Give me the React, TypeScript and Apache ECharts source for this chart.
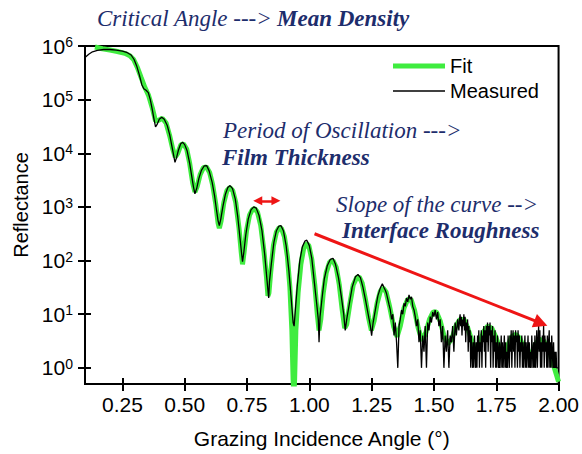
import React, { useEffect, useRef } from 'react';
import * as echarts from 'echarts';

const measAngle = [
  0.1, 0.115, 0.13, 0.15, 0.175, 0.2, 0.225, 0.25, 0.27, 0.285, 0.297, 0.307, 0.318, 0.328, 0.336, 0.345, 0.354, 0.362, 0.37, 0.377,
  0.383, 0.39, 0.398, 0.408, 0.418, 0.43, 0.44, 0.448, 0.455, 0.461, 0.467, 0.475, 0.484, 0.492, 0.5, 0.51, 0.52, 0.528, 0.535, 0.541,
  0.548, 0.557, 0.567, 0.578, 0.588, 0.598, 0.61, 0.62, 0.628, 0.634, 0.639, 0.645, 0.653, 0.663, 0.673, 0.682, 0.692, 0.703, 0.713, 0.722,
  0.728, 0.732, 0.737, 0.745, 0.755, 0.766, 0.777, 0.787, 0.798, 0.81, 0.821, 0.829, 0.835, 0.837, 0.84, 0.848, 0.858, 0.868, 0.878, 0.886,
  0.896, 0.907, 0.918, 0.928, 0.935, 0.939, 0.944, 0.952, 0.962, 0.972, 0.982, 0.99, 1.0, 1.01, 1.02, 1.03, 1.036, 1.039, 1.043, 1.05,
  1.06, 1.072, 1.084, 1.095, 1.105, 1.117, 1.128, 1.138, 1.144, 1.15, 1.16, 1.172, 1.185, 1.195, 1.205, 1.215, 1.226, 1.236, 1.245, 1.25,
  1.256, 1.265, 1.275, 1.285, 1.293,
  1.3, 1.305, 1.31, 1.315, 1.32, 1.325, 1.33, 1.335, 1.34, 1.345, 1.35, 1.355, 1.36, 1.365, 1.37, 1.375, 1.38, 1.385, 1.39, 1.395,
  1.4, 1.405, 1.41, 1.415, 1.42, 1.425, 1.43, 1.435, 1.44, 1.445, 1.45, 1.455, 1.46, 1.465, 1.47, 1.475, 1.48, 1.485, 1.49, 1.495,
  1.5, 1.505, 1.51, 1.515, 1.52, 1.525, 1.53, 1.535, 1.54, 1.545, 1.55, 1.555, 1.56, 1.565, 1.57, 1.575, 1.58, 1.585, 1.59, 1.595,
  1.6, 1.6025, 1.605, 1.6075, 1.61, 1.6125, 1.615, 1.6175, 1.62, 1.6225, 1.625, 1.6275, 1.63, 1.6325, 1.635, 1.6375, 1.64, 1.6425, 1.645, 1.6475,
  1.65, 1.6525, 1.655, 1.6575, 1.66, 1.6625, 1.665, 1.6675, 1.67, 1.6725, 1.675, 1.6775, 1.68, 1.6825, 1.685, 1.6875, 1.69, 1.6925, 1.695, 1.6975,
  1.7, 1.7025, 1.705, 1.7075, 1.71, 1.7125, 1.715, 1.7175, 1.72, 1.7225, 1.725, 1.7275, 1.73, 1.7325, 1.735, 1.7375, 1.74, 1.7425, 1.745, 1.7475,
  1.75, 1.7525, 1.755, 1.7575, 1.76, 1.7625, 1.765, 1.7675, 1.77, 1.7725, 1.775, 1.7775, 1.78, 1.7825, 1.785, 1.7875, 1.79, 1.7925, 1.795, 1.7975,
  1.8, 1.8025, 1.805, 1.8075, 1.81, 1.8125, 1.815, 1.8175, 1.82, 1.8225, 1.825, 1.8275, 1.83, 1.8325, 1.835, 1.8375, 1.84, 1.8425, 1.845, 1.8475,
  1.85, 1.8525, 1.855, 1.8575, 1.86, 1.8625, 1.865, 1.8675, 1.87, 1.8725, 1.875, 1.8775, 1.88, 1.8825, 1.885, 1.8875, 1.89, 1.8925, 1.895, 1.8975,
  1.9, 1.9025, 1.905, 1.9075, 1.91, 1.9125, 1.915, 1.9175, 1.92, 1.9225, 1.925, 1.9275, 1.93, 1.9325, 1.935, 1.9375, 1.94, 1.9425, 1.945, 1.9475,
  1.95, 1.9525, 1.955, 1.9575, 1.96, 1.9625, 1.965, 1.9675, 1.97, 1.9725, 1.975, 1.9775, 1.98, 1.9825, 1.985, 1.9875, 1.99, 1.9925, 1.995, 1.9975
];
const measR = [
  6.1e5, 7.0e5, 7.8e5, 8.3e5, 8.6e5, 8.6e5, 8.4e5, 8.0e5, 7.5e5, 6.8e5, 5.6e5, 4.3e5, 2.9e5, 1.9e5, 1.6e5, 1.5e5, 1.35e5, 1.0e5, 6.5e4, 4.3e4,
  3.1e4, 3.5e4, 4.3e4, 4.7e4, 4.3e4, 3.3e4, 2.2e4, 1.4e4, 9.5e3, 6.8e3, 8.2e3, 1.15e4, 1.5e4, 1.6e4, 1.45e4, 1.1e4, 6.5e3, 3.8e3, 2.4e3, 1.75e3,
  2.2e3, 3.4e3, 4.8e3, 5.8e3, 5.9e3, 4.7e3, 2.9e3, 1.6e3, 850, 550, 450, 600, 1000, 1700, 2300, 2500, 2200, 1400, 650, 260,
  140, 95, 140, 300, 600, 880, 1000, 950, 700, 360, 130, 50, 25, 20, 40, 90, 220, 360, 440, 450,
  360, 190, 65, 18, 7, 6, 12, 35, 100, 180, 230, 240, 190, 110, 40, 15, 8, 3, 9, 18,
  45, 80, 105, 110, 85, 48, 22, 10, 5, 8, 15, 32, 50, 55, 48, 32, 18, 10, 6, 4,
  7, 12, 22, 31, 37,
  31, 28, 24, 19, 15, 12, 8, 10, 4, 7, 3, 1, 6, 8, 12, 10, 16, 14, 20, 17,
  23, 19, 21, 14, 12, 9, 6, 8, 3, 5, 1, 4, 2, 6, 1, 7, 5, 9, 7, 11,
  9, 12, 8, 11, 6, 8, 3, 6, 1, 4, 2, 5, 1, 4, 3, 6, 2, 7, 4, 8,
  5, 8, 10, 6, 9, 4, 8, 6, 10, 5, 9, 3, 7, 5, 8, 2, 6, 3, 5, 1,
  4, 2, 1, 3, 1, 4, 2, 1, 3, 1, 4, 2, 5, 1, 3, 2, 5, 1, 4, 3,
  6, 2, 5, 1, 6, 3, 7, 2, 6, 4, 7, 1, 5, 3, 6, 1, 4, 2, 5, 1,
  3, 1, 4, 2, 1, 3, 1, 2, 4, 1, 3, 1, 2, 4, 1, 3, 1, 2, 1, 4,
  2, 1, 4, 2, 5, 1, 3, 5, 2, 4, 1, 5, 3, 4, 1, 5, 2, 4, 1, 3,
  2, 4, 1, 3, 1, 2, 4, 1, 3, 1, 2, 4, 1, 3, 1, 2, 1, 4, 2, 1,
  3, 1, 4, 1, 2, 5, 1, 3, 6, 2, 5, 1, 3, 1, 4, 2, 6, 1, 4, 2,
  3, 1, 4, 1, 3, 5, 1, 3, 1, 4, 2, 1, 3, 1, 2, 1, 2, 1, 1, 1
];

const fitAngle = [
  0.14, 0.17, 0.2, 0.23, 0.26, 0.28, 0.295, 0.31, 0.325, 0.34, 0.355, 0.37, 0.383, 0.395, 0.41, 0.425, 0.44, 0.452, 0.462, 0.472,
  0.485, 0.495, 0.508, 0.52, 0.532, 0.541, 0.55, 0.562, 0.575, 0.587, 0.6, 0.612, 0.625, 0.634, 0.639, 0.646, 0.657, 0.669, 0.681, 0.693,
  0.705, 0.718, 0.727, 0.732, 0.738, 0.748, 0.76, 0.772, 0.781, 0.792, 0.805, 0.818, 0.828, 0.834, 0.838, 0.845, 0.856, 0.868, 0.879, 0.888,
  0.9, 0.912, 0.922, 0.93, 0.935, 0.938, 0.941, 0.946, 0.955, 0.966, 0.977, 0.988, 0.998, 1.01, 1.022, 1.032, 1.039, 1.046, 1.056, 1.068,
  1.082, 1.095, 1.108, 1.12, 1.132, 1.142, 1.15, 1.162, 1.176, 1.19, 1.2, 1.212, 1.225, 1.238, 1.249, 1.26, 1.272, 1.285, 1.296, 1.308,
  1.322, 1.338, 1.352, 1.365, 1.38, 1.395, 1.408, 1.422, 1.437, 1.452, 1.467, 1.482, 1.497, 1.51, 1.525, 1.54, 1.556, 1.572, 1.588, 1.604,
  1.62, 1.636, 1.652, 1.668, 1.684, 1.7, 1.716, 1.732, 1.748, 1.764, 1.78, 1.796, 1.812, 1.828, 1.844, 1.86, 1.876, 1.892, 1.908, 1.924,
  1.94, 1.956, 1.972, 1.986, 2.0
];
const fitR = [
  9.6e5, 8.9e5, 8.4e5, 7.9e5, 7.3e5, 6.6e5, 5.6e5, 4.0e5, 2.6e5, 1.7e5, 1.2e5, 7.0e4, 4.0e4, 4.1e4, 4.5e4, 3.7e4, 2.1e4, 1.2e4, 8.5e3, 1.0e4,
  1.45e4, 1.5e4, 1.2e4, 6.5e3, 2.8e3, 1.9e3, 2.4e3, 4.0e3, 5.4e3, 5.6e3, 4.4e3, 2.6e3, 1.1e3, 500, 400, 550, 1200, 2000, 2300, 2000,
  1200, 400, 140, 85, 140, 360, 700, 900, 930, 800, 450, 150, 50, 22, 25, 60, 190, 340, 410, 400,
  280, 120, 32, 5, 0.6, 0.3, 0.6, 5, 25, 85, 165, 210, 190, 105, 35, 10, 5, 8, 25, 60,
  95, 100, 75, 36, 12, 5.5, 6.5, 15, 35, 48, 50, 38, 19, 8.5, 5, 7.5, 16, 27, 31, 26,
  14, 6, 3.8, 6, 13, 19, 19, 12, 5.5, 3.2, 4.5, 8, 11, 11, 7.5, 4, 2.8, 3.5, 6, 8,
  8, 5.5, 3.2, 2.2, 3, 4.8, 6, 5.5, 3.8, 2.3, 1.8, 2.6, 3.8, 4.2, 3.6, 2.4, 1.6, 1.9, 2.8, 3.4,
  3.2, 2.3, 1.5, 0.9, 0.55
];

const xTicks = [0.25, 0.5, 0.75, 1.0, 1.25, 1.5, 1.75, 2.0];
const yTicks = [1, 10, 100, 1000, 10000, 100000, 1000000];

// annotation arrows in data coordinates [angle, reflectance]
const slopeArrowStart = [1.021, 316];
const slopeArrowEnd = [1.929, 6.8];
const periodArrowStart = [0.793, 1300];
const periodArrowEnd = [0.866, 1300];

const NAVY = '#1d2d6c';
const SANS = '"Liberation Sans", Arial, sans-serif';
const SERIF = '"Liberation Serif", "Times New Roman", serif';

export default function App() {
  const ref = useRef<HTMLDivElement>(null);
  useEffect(() => {
    document.body.style.margin = '0';
    if (!ref.current) return;
    const chart = echarts.init(ref.current, undefined, { renderer: 'svg' });
    const fitData = fitAngle.map((a, i) => [a, fitR[i]]);
    const measData = measAngle.map((a, i) => [a, measR[i]]);
    const tickLine = { color: '#000', width: 2 };
    const option: any = {
      animation: false,
      backgroundColor: '#fff',
      grid: { left: 85, right: 23, top: 46, bottom: 68, show: true, borderColor: '#000', borderWidth: 2, backgroundColor: 'transparent' },
      legend: {
        orient: 'vertical', left: 393, top: 56, padding: 0, itemWidth: 52, itemHeight: 20, itemGap: 5,
        textStyle: { fontSize: 20, lineHeight: 20, fontFamily: SANS, color: '#000' },
        data: [
          { name: 'Fit', icon: 'path://M0,0H52V5H0Z' },
          { name: 'Measured', icon: 'path://M0,0H52V1.3H0Z' }
        ]
      },
      xAxis: [
        {
          type: 'value', min: 0.1, max: 2.0, position: 'bottom',
          axisLine: { show: true, onZero: false, lineStyle: tickLine },
          axisTick: { show: true, inside: false, length: 7, lineStyle: tickLine, customValues: xTicks },
          axisLabel: { customValues: xTicks, formatter: (v: number) => v.toFixed(2), fontSize: 21, color: '#000', margin: 10, fontFamily: SANS },
          splitLine: { show: false },
          name: 'Grazing Incidence Angle (°)', nameLocation: 'middle', nameGap: 44,
          nameTextStyle: { fontSize: 21, color: '#000', fontFamily: SANS }
        },
        {
          type: 'value', min: 0.1, max: 2.0, position: 'bottom',
          axisLine: { show: false },
          axisTick: { show: true, inside: true, length: 6, lineStyle: tickLine, customValues: xTicks },
          axisLabel: { show: false },
          splitLine: { show: false }
        }
      ],
      yAxis: [
        {
          type: 'log', logBase: 10, min: 0.5, max: 1e6, position: 'left',
          axisLine: { show: true, onZero: false, lineStyle: tickLine },
          axisTick: { show: true, inside: false, length: 7, lineStyle: tickLine, customValues: yTicks },
          axisLabel: {
            customValues: yTicks,
            formatter: (v: number) => `10{s|${Math.round(Math.log10(v))}}`,
            fontSize: 21, color: '#000', margin: 12, fontFamily: SANS,
            rich: { s: { fontSize: 14, color: '#000', fontFamily: SANS, verticalAlign: 'top', padding: [0, 0, 8, 0] } }
          },
          splitLine: { show: false },
          name: 'Reflectance', nameLocation: 'middle', nameGap: 52,
          nameTextStyle: { fontSize: 20, color: '#000', fontFamily: SANS, padding: [0, 0, 0, 20] }
        },
        {
          type: 'log', logBase: 10, min: 0.5, max: 1e6, position: 'left',
          axisLine: { show: false },
          axisTick: { show: true, inside: true, length: 6, lineStyle: tickLine, customValues: yTicks },
          axisLabel: { show: false },
          splitLine: { show: false }
        }
      ],
      graphic: [
        { type: 'text', x: 97, y: 18, style: { text: 'Critical Angle --->', font: `italic 23px ${SERIF}`, fill: NAVY, verticalAlign: 'middle' } },
        { type: 'text', x: 277, y: 18, style: { text: 'Mean Density', font: `italic bold 23px ${SERIF}`, fill: NAVY, verticalAlign: 'middle' } },
        { type: 'text', x: 223, y: 130, style: { text: 'Period of Oscillation --->', font: `italic 23px ${SERIF}`, fill: NAVY, verticalAlign: 'middle' } },
        { type: 'text', x: 222, y: 157, style: { text: 'Film Thickness', font: `italic bold 23px ${SERIF}`, fill: NAVY, verticalAlign: 'middle' } },
        { type: 'text', x: 336, y: 204, style: { text: 'Slope of the curve -->', font: `italic 23px ${SERIF}`, fill: NAVY, verticalAlign: 'middle' } },
        { type: 'text', x: 342, y: 230, style: { text: 'Interface Roughness', font: `italic bold 23px ${SERIF}`, fill: NAVY, verticalAlign: 'middle' } }
      ],
      series: [
        {
          name: 'Fit', type: 'line', data: fitData, symbol: 'none', showSymbol: false, clip: true, z: 2,
          lineStyle: { color: '#3fec3f', width: 5 }, itemStyle: { color: '#3fec3f' }
        },
        {
          name: 'Measured', type: 'line', data: measData, symbol: 'none', showSymbol: false, clip: true, z: 3,
          lineStyle: { color: '#000', width: 1.3 }, itemStyle: { color: '#000' },
          markLine: {
            silent: true, animation: false, label: { show: false },
            lineStyle: { color: '#ee1515', width: 3, type: 'solid' },
            emphasis: { disabled: true },
            data: [
              [
                { coord: slopeArrowStart, symbol: 'none' },
                { coord: slopeArrowEnd, symbol: 'triangle', symbolSize: 14 }
              ],
              [
                { coord: periodArrowStart, symbol: 'triangle', symbolSize: 9, lineStyle: { width: 2.5, color: '#ee1515', type: 'solid' } },
                { coord: periodArrowEnd, symbol: 'triangle', symbolSize: 9 }
              ]
            ]
          }
        }
      ]
    };
    chart.setOption(option);
    return () => chart.dispose();
  }, []);
  return <div ref={ref} style={{ width: 582, height: 454 }} />;
}
